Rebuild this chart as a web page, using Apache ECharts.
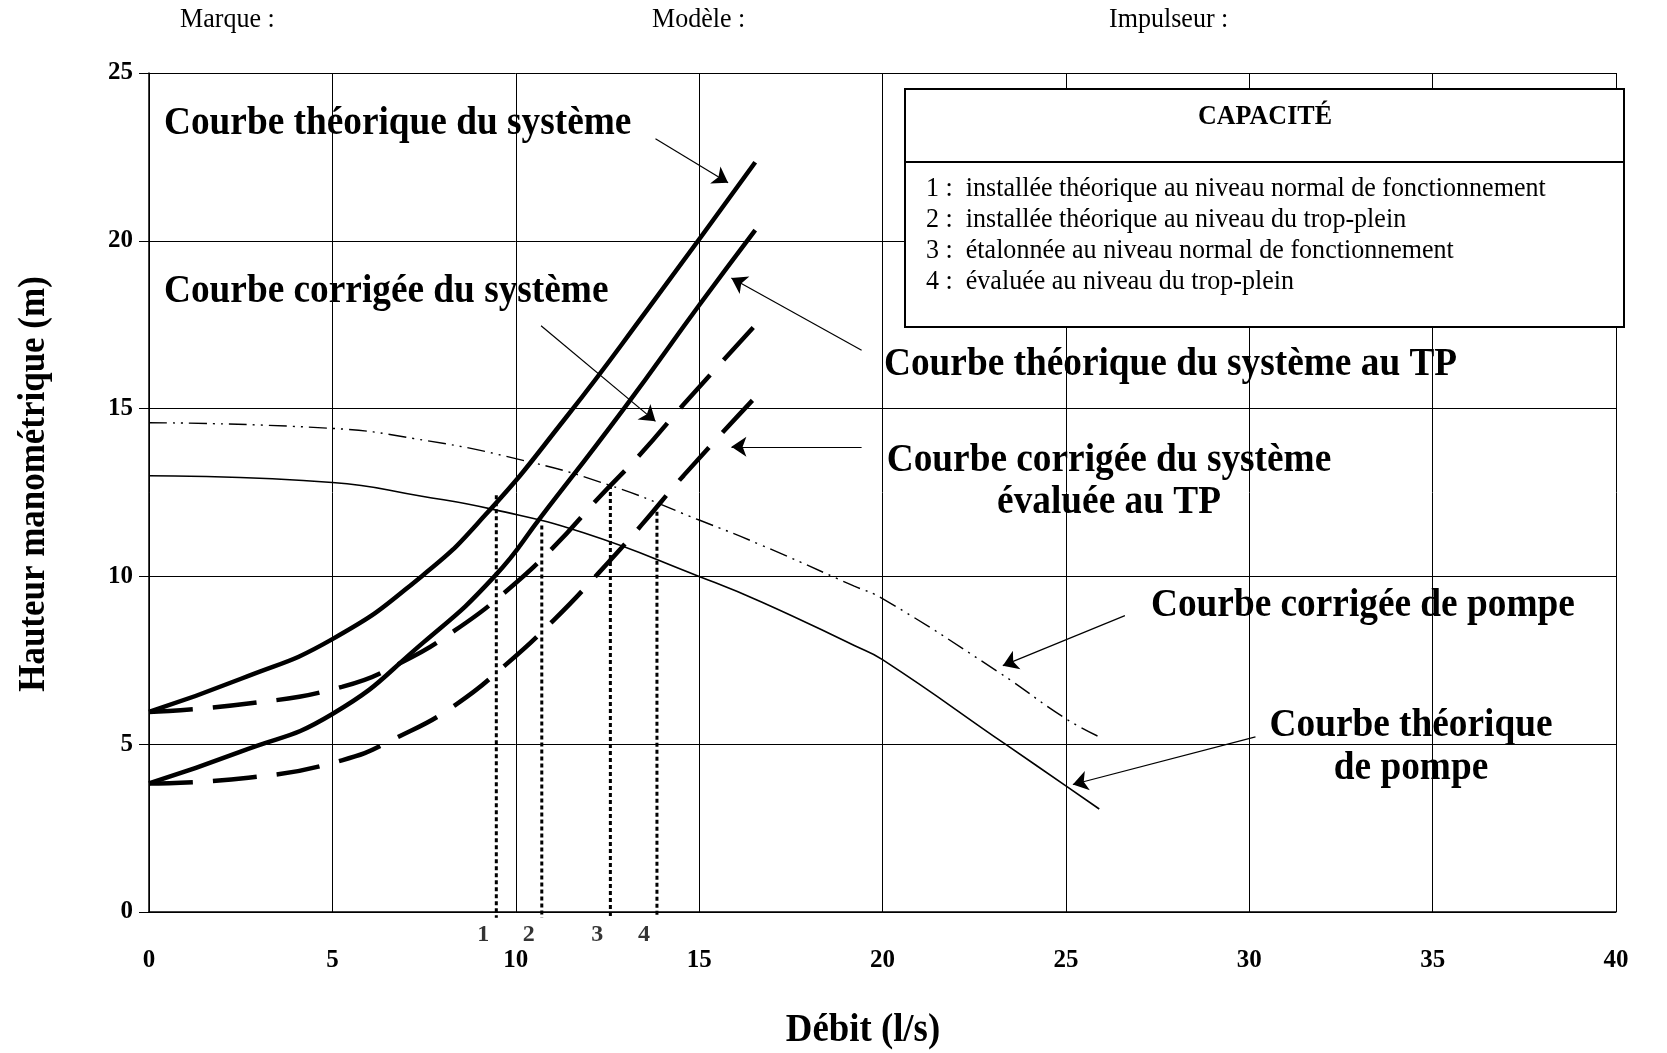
<!DOCTYPE html>
<html><head><meta charset="utf-8">
<script src="https://cdn.jsdelivr.net/npm/echarts@6/dist/echarts.min.js"></script>
<style>html,body{margin:0;padding:0;background:#fff}#c{width:1667px;height:1053px}</style>
</head><body><div id="c"></div>
<script>
// Débit (l/s) vs Hauteur manométrique (m)
const courbeTheoSysteme   = [[0,5.96],[2.51,6.95],[5,8.13],[7.43,10],[9.16,11.82],[11.38,14.75],[13.59,17.95],[16.53,22.34]];
const courbeTheoSystemeTP = [[0,3.83],[2.5,4.78],[5,5.9],[7.5,8.05],[9.42,10],[10.72,11.82],[12.95,15],[15,18.08],[16.53,20.32]];
const courbeCorrSysteme   = [[0,5.96],[2.71,6.21],[5.26,6.71],[6.91,7.45],[8.34,8.39],[9.73,9.55],[11.03,10.87],[12.25,12.33],[13.42,13.67],[14.58,15.13],[16.53,17.48]];
const courbeCorrSystemeTP = [[0,3.83],[2.71,4.0],[5.26,4.52],[6.86,5.25],[8.34,6.16],[9.73,7.37],[11.03,8.69],[12.25,10.09],[13.42,11.52],[14.58,13.01],[16.5,15.3]];
const courbeTheoPompe     = [[0,13.0],[5,12.8],[7.44,12.39],[9.41,11.99],[11.85,11.3],[15,10],[16.7,9.24],[19.23,7.94],[20,7.52],[23.35,5.0],[25,3.76],[25.91,3.07]];
const courbeCorrPompe     = [[0,14.58],[5,14.41],[7.21,14.11],[10,13.51],[12.55,12.72],[15,11.68],[16.7,10.93],[19.23,9.71],[20,9.34],[23.16,7.15],[25,5.76],[25.91,5.22]];
// operating points 1..4
const pointX      = [9.47, 10.71, 12.58, 13.85];
const pointTop    = [12.42, 11.52, 12.72, 11.93];
const pointBottom = -0.17;
const pointLabels = ['1','2','3','4'];
// annotation arrows [tail, head] in axis units
const arrows = [
  [[13.81,23.04],[15.79,21.73]],
  [[19.43,16.74],[15.88,18.89]],
  [[10.69,17.47],[13.81,14.62]],
  [[19.43,13.86],[15.88,13.86]],
  [[26.61,8.83],[23.28,7.34]],
  [[30.17,5.22],[25.19,3.8]]
];
const legendTitle = 'CAPACITÉ';
const legendItems = [
  '1 :  installée théorique au niveau normal de fonctionnement',
  '2 :  installée théorique au niveau du trop-plein',
  '3 :  étalonnée au niveau normal de fonctionnement',
  '4 :  évaluée au niveau du trop-plein'
];

const FF = '"Liberation Serif", "Times New Roman", serif';
const chart = echarts.init(document.getElementById('c'), null, {renderer:'canvas'});

function curve(data, width, type) {
  return {type:'line', data:data, smooth:0.5, symbol:'none', silent:true, z:5,
    lineStyle:{color:'#000', width:width, type:type, cap:'butt'}};
}
const series = [
  curve(courbeTheoSysteme, 4.5, 'solid'),
  curve(courbeTheoSystemeTP, 4.5, 'solid'),
  curve(courbeCorrSysteme, 4.5, [44,20]),
  curve(courbeCorrSystemeTP, 4.5, [44,20]),
  curve(courbeTheoPompe, 1.6, 'solid'),
  curve(courbeCorrPompe, 1.4, [18,6,2,6,2,6])
];
pointX.forEach((x,i)=>{
  series.push({type:'line', data:[[x,pointTop[i]],[x,pointBottom]], symbol:'none', clip:false, silent:true, z:4,
    lineStyle:{color:'#000', width:3, type:[4,3], cap:'butt'}});
});
series.push({type:'scatter', data:pointX.map((x,i)=>[x,0,pointLabels[i]]), symbolSize:1, silent:true,
  itemStyle:{color:'transparent'},
  label:{show:true, position:'bottom', distance:10, offset:[-13,0], formatter:p=>p.data[2],
    fontFamily:FF, fontWeight:'bold', fontSize:24, color:'#000'}});
series.push({type:'lines', coordinateSystem:'cartesian2d', silent:true, z:6,
  symbol:['none','arrow'], symbolSize:15,
  lineStyle:{color:'#000', width:1.2, opacity:1},
  data:arrows.map(a=>({coords:a}))});

const bigFont = 'bold 41px ' + FF;
const SX = 0.91;
function txt(text, x, y, font, align, sx, lh) {
  return {type:'text', z:50, x:x, y:y, scaleX:sx||1,
    style:{text:text, x:0, y:0, font:font, fill:'#000', lineHeight:lh,
    textAlign:align||'left', align:align||'left', textVerticalAlign:'middle', verticalAlign:'middle'}};
}
const graphic = [
  txt('Marque :', 180, 20, '28px ' + FF, 'left', 0.93),
  txt('Modèle :', 652, 20, '28px ' + FF, 'left', 0.93),
  txt('Impulseur :', 1109, 20, '28px ' + FF, 'left', 0.93),
  txt('Courbe théorique du système', 164, 123, bigFont, 'left', SX),
  txt('Courbe corrigée du système', 164, 291, bigFont, 'left', SX),
  txt('Courbe théorique du système au TP', 884, 364, bigFont, 'left', SX),
  txt('Courbe corrigée du système\névaluée au TP', 1109, 481, bigFont, 'center', SX, 42),
  txt('Courbe corrigée de pompe', 1151, 605, bigFont, 'left', SX),
  txt('Courbe théorique\nde pompe', 1411, 747, bigFont, 'center', SX, 43),
  txt('Débit (l/s)', 863, 1031, 'bold 40px ' + FF, 'center', 0.92),
  {type:'text', z:50, rotation:Math.PI/2, x:34, y:484, scaleX:0.92,
    style:{text:'Hauteur manométrique (m)', x:0, y:0, font:'bold 38px ' + FF, fill:'#000',
      textAlign:'center', align:'center', textVerticalAlign:'middle', verticalAlign:'middle'}},
  {type:'rect', z:100, shape:{x:905, y:89, width:719, height:238}, style:{fill:'#fff', stroke:'#000', lineWidth:2}},
  {type:'line', z:101, shape:{x1:905, y1:162, x2:1624, y2:162}, style:{stroke:'#000', lineWidth:2}},
  Object.assign(txt(legendTitle, 1265, 117, 'bold 28px ' + FF, 'center', 0.93), {z:102})
];
legendItems.forEach((t,i)=>{ graphic.push(Object.assign(txt(t, 926, 189 + i*31, '28px ' + FF, 'left', 0.93), {z:102})); });

chart.setOption({
  animation:false,
  backgroundColor:'#fff',
  grid:{left:149, right:51, top:73, bottom:141, containLabel:false},
  xAxis:{type:'value', min:0, max:40, interval:5,
    axisLine:{show:true, onZero:false, lineStyle:{color:'#000', width:1.5}},
    axisTick:{show:false},
    splitLine:{show:true, lineStyle:{color:'#000', width:1}},
    axisLabel:{fontFamily:FF, fontWeight:'bold', fontSize:25, color:'#000', margin:36}},
  yAxis:{type:'value', min:0, max:25, interval:5,
    axisLine:{show:true, lineStyle:{color:'#000', width:1.5}},
    axisTick:{show:true, length:10, lineStyle:{color:'#000', width:1}},
    splitLine:{show:true, lineStyle:{color:'#000', width:1}},
    axisLabel:{fontFamily:FF, fontWeight:'bold', fontSize:25, color:'#000', margin:16, padding:[0,0,16,0]}},
  series:series,
  graphic:graphic
});
</script></body></html>
